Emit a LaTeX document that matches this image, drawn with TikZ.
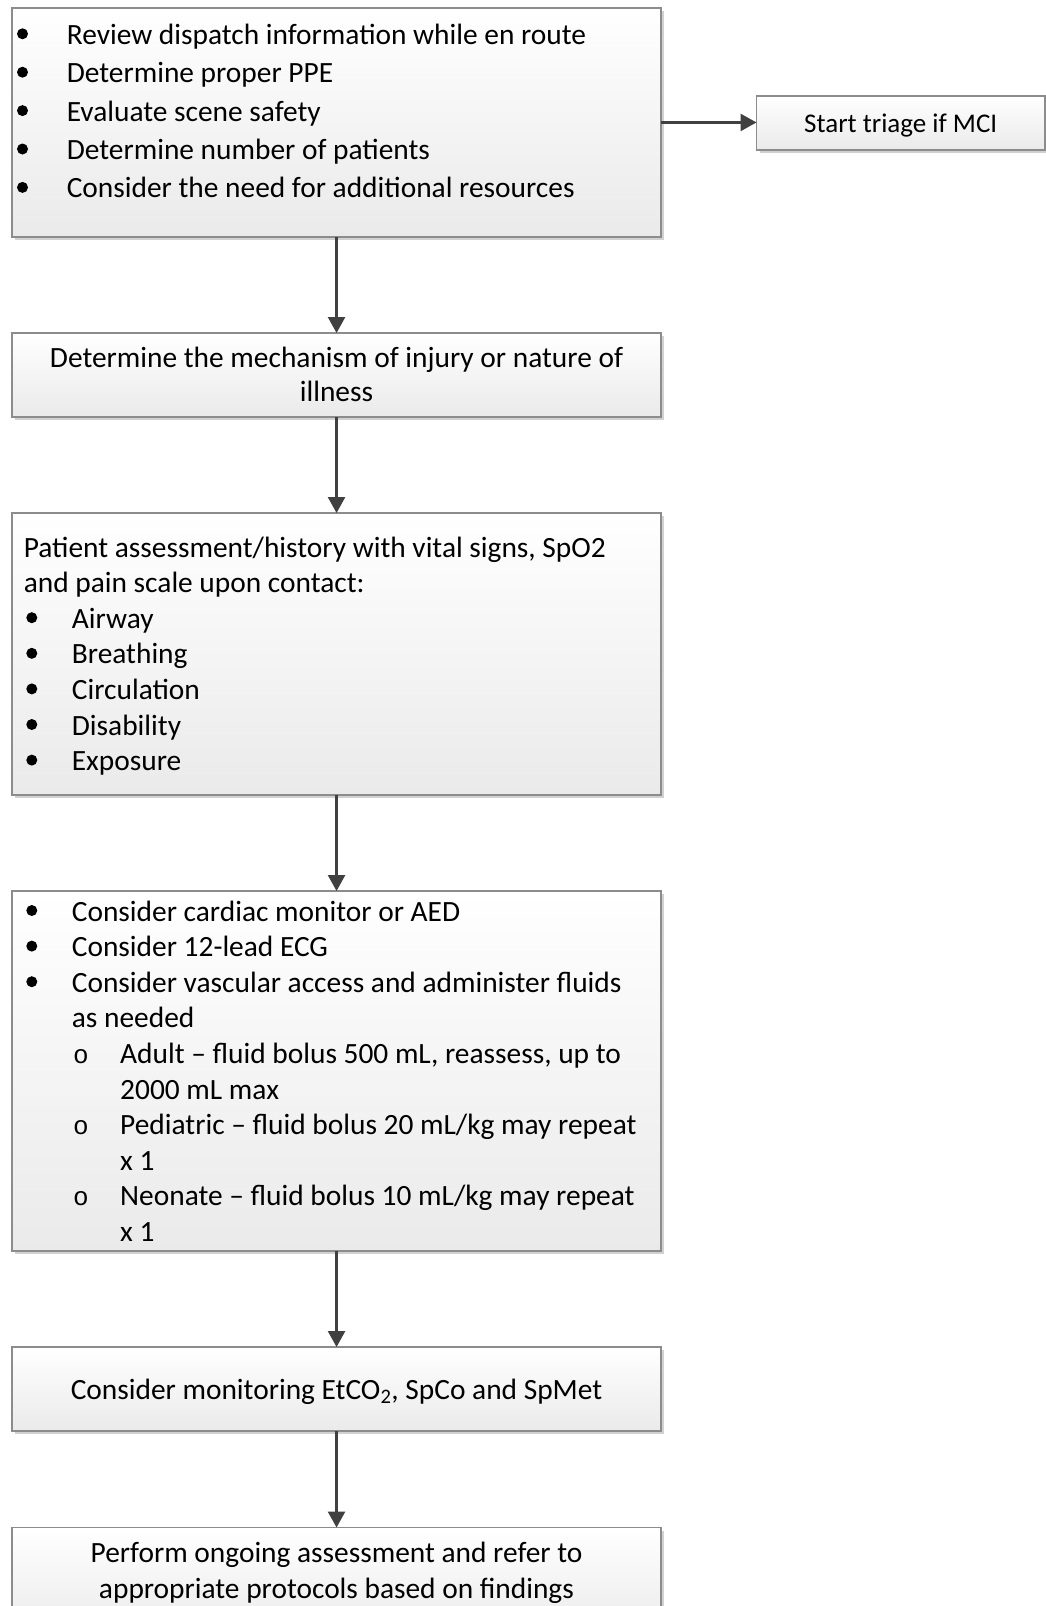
\documentclass[tikz,border=0pt]{standalone}
\usepackage{fontspec}
\setmainfont{Carlito}
\newfontfamily\submark{Liberation Mono}
\usetikzlibrary{arrows.meta,shadows}
\definecolor{boxline}{HTML}{8C8C8C}
\definecolor{arrowc}{HTML}{404040}
\definecolor{boxbot}{HTML}{EAEAEA}
\begin{document}
\begin{tikzpicture}[x=1pt,y=-1pt,
  box/.style={rectangle, draw=boxline, line width=1.8pt, top color=white, bottom color=boxbot,
    anchor=north west, inner sep=0pt, outer sep=0pt,
    drop shadow={shadow xshift=3pt, shadow yshift=-3pt, fill=black!18, opacity=1}},
  arr/.style={draw=arrowc, line width=2.6pt, -{Triangle[length=16pt,width=17pt]}},
  txt/.style={anchor=base west, inner sep=0pt, font=\fontsize{29.4}{35}\selectfont},
  ctxt/.style={txt, anchor=base},
  dot/.style={circle, fill=black, minimum size=11pt, inner sep=0pt},
  sub/.style={anchor=base, inner sep=0pt, font=\submark\fontsize{26}{30}\selectfont}]
\useasboundingbox (0,0) rectangle (1046,1606);
\fill[white] (0,0) rectangle (1046,1606);

% boxes
\node[box, minimum width=648.5pt, minimum height=228.5pt] (b1) at (12.3,8.2) {};
\node[box, minimum width=288.5pt, minimum height=54pt] (tr) at (756.5,96) {};
\node[box, minimum width=648.5pt, minimum height=84pt] (b2) at (12.3,333) {};
\node[box, minimum width=648.5pt, minimum height=282pt] (b3) at (12.3,513) {};
\node[box, minimum width=648.5pt, minimum height=360pt] (b4) at (12.3,891) {};
\node[box, minimum width=648.5pt, minimum height=84pt] (b5) at (12.3,1347) {};
\node[box, minimum width=648.5pt, minimum height=110pt] (b6) at (12.3,1527.5) {};

% connectors
\draw[arr] (b1) -- (b2);
\draw[arr] (b2) -- (b3);
\draw[arr] (b3) -- (b4);
\draw[arr] (b4) -- (b5);
\draw[arr] (b5) -- (b6);
\draw[arr] (b1.east) -- (b1.east -| tr.west);

% box 1
\foreach \y/\t [count=\i] in {44.3/Review dispatch information while en route,
  82.7/Determine proper PPE, 121.1/Evaluate scene safety,
  159.5/Determine number of patients, 197.9/Consider the need for additional resources}{
  \node[dot] (b1d\i) at (22.5,\y-10.5) {};
  \node[txt] (b1t\i) at (66.6,\y) {\t};
}
\node[ctxt, font=\fontsize{27}{32}\selectfont] (trt) at (900.75,132.5) {Start triage if MCI};

% box 2
\node[ctxt] (b2t1) at (336.5,367) {Determine the mechanism of injury or nature of};
\node[ctxt] (b2t2) at (336.5,401.5) {illness};

% box 3
\node[txt] (b3t1) at (23.6,557) {Patient assessment/history with vital signs, SpO2};
\node[txt] (b3t2) at (23.6,592.6) {and pain scale upon contact:};
\foreach \y/\t [count=\i] in {628.2/Airway, 663.8/Breathing, 699.4/Circulation,
  735/Disability, 770.6/Exposure}{
  \node[dot] (b3d\i) at (31.8,\y-10.5) {};
  \node[txt] (b3b\i) at (71.7,\y) {\t};
}

% box 4
\node[dot] (b4d1) at (31.8,910.5) {};
\node[txt] (b4t1) at (71.7,921) {Consider cardiac monitor or AED};
\node[dot] (b4d2) at (31.8,946.1) {};
\node[txt] (b4t2) at (71.7,956.6) {Consider 12-lead ECG};
\node[dot] (b4d3) at (31.8,981.7) {};
\node[txt] (b4t3) at (71.7,992.2) {Consider vascular access and administer fluids};
\node[txt] (b4t4) at (71.7,1027.8) {as needed};
\node[sub] (b4o1) at (81,1063.4) {o};
\node[txt] (b4t5) at (120,1063.4) {Adult – fluid bolus 500 mL, reassess, up to};
\node[txt] (b4t6) at (120,1099) {2000 mL max};
\node[sub] (b4o2) at (81,1134.6) {o};
\node[txt] (b4t7) at (120,1134.6) {Pediatric – fluid bolus 20 mL/kg may repeat};
\node[txt] (b4t8) at (120,1170.2) {x 1};
\node[sub] (b4o3) at (81,1205.8) {o};
\node[txt] (b4t9) at (120,1205.8) {Neonate – fluid bolus 10 mL/kg may repeat};
\node[txt] (b4t10) at (120,1241.4) {x 1};

% box 5
\node[ctxt] (b5t) at (336.5,1399) {Consider monitoring EtCO\textsubscript{2}, SpCo and SpMet};

% box 6
\node[ctxt] (b6t1) at (336.5,1562) {Perform ongoing assessment and refer to};
\node[ctxt] (b6t2) at (336.5,1598) {appropriate protocols based on findings};
\end{tikzpicture}
\end{document}
